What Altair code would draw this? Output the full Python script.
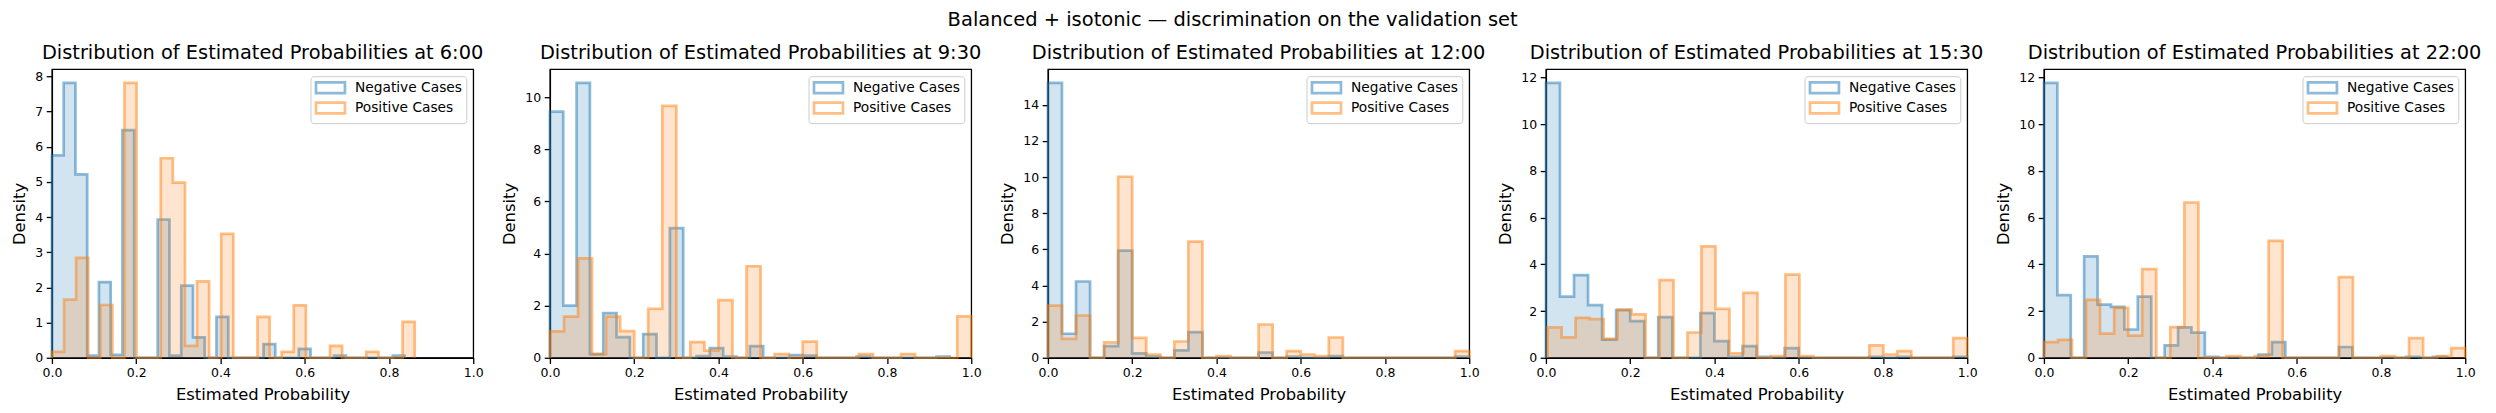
import altair as alt
import numpy as np
import pandas as pd

# ---------------- data ----------------
times = ["6:00", "9:30", "12:00", "15:30", "22:00"]
groups = ["Negative Cases", "Positive Cases"]
colors = ["#1f77b4", "#ff7f0e"]

# probability range covered by the 30 bins of each histogram
neg_range_0600 = [0.0, 0.837]
pos_range_0600 = [0.0, 0.861]
neg_range_0930 = [0.0, 0.949]
pos_range_0930 = [0.0, 1.0]
neg_range_1200 = [0.0, 1.0]
pos_range_1200 = [0.0, 1.0]
neg_range_1530 = [0.0, 1.0]
pos_range_1530 = [0.004, 1.0]
neg_range_2200 = [0.0, 0.955]
pos_range_2200 = [0.0, 1.0]

# densities of the 30 bins
neg_0600 = [5.75, 7.81, 5.21, 0.06, 2.15, 0.08, 6.47, 0, 0, 3.93, 0.06, 2.05, 0.58, 0, 1.16,
            0, 0, 0, 0.39, 0, 0, 0.25, 0, 0, 0.06, 0, 0, 0, 0, 0.06]
pos_0600 = [0.17, 1.65, 2.84, 0, 1.50, 0, 7.81, 0, 0, 5.67, 4.98, 0.34, 2.17, 0, 3.52,
            0, 0, 1.16, 0, 0.17, 1.49, 0, 0, 0.34, 0, 0, 0.17, 0, 0, 1.02]
neg_0930 = [9.44, 2.00, 10.54, 0.14, 1.71, 0.79, 0, 0.91, 0, 4.97, 0, 0.06, 0.37, 0.04, 0,
            0.45, 0, 0, 0.10, 0.08, 0, 0, 0, 0.04, 0, 0, 0, 0, 0, 0.04]
pos_0930 = [1.01, 1.58, 3.81, 0.14, 1.58, 1.02, 0, 1.88, 9.66, 0, 0.60, 0.27, 2.21, 0, 3.51,
            0, 0.14, 0, 0.62, 0, 0, 0, 0.14, 0, 0, 0.14, 0, 0, 0, 1.59]
neg_1200 = [15.21, 1.33, 4.22, 0, 0.64, 5.93, 0.24, 0.06, 0, 0.41, 1.42, 0, 0, 0, 0,
            0.29, 0, 0.06, 0, 0, 0.09, 0, 0, 0, 0, 0, 0, 0, 0, 0.06]
pos_1200 = [2.89, 1.05, 2.34, 0, 0.85, 10.02, 1.10, 0.18, 0, 0.90, 6.43, 0, 0.09, 0, 0,
            1.84, 0, 0.37, 0.18, 0.09, 1.12, 0, 0, 0, 0, 0, 0, 0, 0, 0.37]
neg_1530 = [11.76, 2.62, 3.54, 2.25, 0.78, 2.04, 1.57, 0, 1.74, 0, 0, 1.91, 0.71, 0.04, 0.50,
            0.04, 0, 0.41, 0, 0, 0, 0, 0, 0.04, 0, 0.04, 0, 0, 0, 0.04]
pos_1530 = [1.30, 0.87, 1.71, 1.65, 0.81, 2.06, 1.86, 0, 3.32, 0, 1.08, 4.77, 2.09, 0.19, 2.78,
            0, 0.07, 3.56, 0.07, 0, 0, 0, 0, 0.53, 0.14, 0.28, 0, 0, 0, 0.84]
neg_2200 = [11.77, 2.68, 0, 4.34, 2.28, 2.18, 1.21, 2.62, 0, 0.53, 1.30, 1.08, 0.04, 0, 0,
            0, 0.14, 0.67, 0, 0, 0, 0, 0.46, 0, 0, 0, 0, 0.04, 0, 0.04]
pos_2200 = [0.67, 0.77, 0, 2.48, 1.03, 2.14, 0.95, 3.80, 0, 1.31, 6.65, 0, 0, 0.07, 0,
            0.07, 5.01, 0, 0, 0, 0, 3.45, 0, 0, 0.07, 0, 0.84, 0, 0.07, 0.41]

x_ticks = [0.0, 0.2, 0.4, 0.6, 0.8, 1.0]
y_ticks_0600 = [0, 1, 2, 3, 4, 5, 6, 7, 8]
y_ticks_0930 = [0, 2, 4, 6, 8, 10]
y_ticks_1200 = [0, 2, 4, 6, 8, 10, 12, 14]
y_ticks_1530 = [0, 2, 4, 6, 8, 10, 12]
y_ticks_2200 = [0, 2, 4, 6, 8, 10, 12]

panels_data = [
    (times[0], neg_0600, pos_0600, neg_range_0600, pos_range_0600, y_ticks_0600),
    (times[1], neg_0930, pos_0930, neg_range_0930, pos_range_0930, y_ticks_0930),
    (times[2], neg_1200, pos_1200, neg_range_1200, pos_range_1200, y_ticks_1200),
    (times[3], neg_1530, pos_1530, neg_range_1530, pos_range_1530, y_ticks_1530),
    (times[4], neg_2200, pos_2200, neg_range_2200, pos_range_2200, y_ticks_2200),
]

FONT = "DejaVu Sans"
LEGEND_PATH = "M-1,-0.892L3.833,-0.892L3.833,0.892L-1,0.892Z"


def step_table(group, dens, rng):
    edges = np.linspace(rng[0], rng[1], len(dens) + 1)
    rows = [{"group": group, "idx": 0, "x": float(edges[0]), "y": 0.0}]
    for i, d in enumerate(dens):
        rows.append({"group": group, "idx": i + 1, "x": float(edges[i]), "y": float(d)})
    rows.append({"group": group, "idx": len(dens) + 1, "x": float(edges[-1]), "y": 0.0})
    return rows


def panel(t, neg, pos, nr, pr, yt):
    df = pd.DataFrame(step_table(groups[0], neg, nr) + step_table(groups[1], pos, pr))
    ymax = 1.05 * max(max(neg), max(pos))
    x = alt.X("x:Q", scale=alt.Scale(domain=[0, 1], nice=False, zero=False),
              axis=alt.Axis(values=x_ticks, format=".1f", title="Estimated Probability",
                            labelFlush=False))
    y = alt.Y("y:Q", scale=alt.Scale(domain=[0, ymax], nice=False),
              axis=alt.Axis(values=yt, format="d", title="Density", labelFlush=False))
    cscale = alt.Scale(domain=groups, range=colors)
    legend = alt.Legend(title=None, orient="top-right", offset=7,
                        symbolType=LEGEND_PATH, symbolSize=144, symbolStrokeWidth=2.7,
                        symbolFillColor="transparent", symbolOpacity=0.5,
                        labelFontSize=13.8, labelFont=FONT, labelColor="black",
                        labelOffset=25.5, rowPadding=-2.7, padding=4,
                        fillColor="rgba(255,255,255,0.8)", strokeColor="#cccccc",
                        cornerRadius=3, labelLimit=300)
    layers = []
    for g, c in zip(groups, colors):
        base = alt.Chart(df).transform_filter(alt.datum.group == g)
        area = base.transform_filter(alt.datum.idx >= 1).mark_area(
            interpolate="step-after", opacity=0.2, color=c
        ).encode(x=x, y=y)
        line = base.mark_line(
            interpolate="step-after", opacity=0.5, strokeWidth=2.7, strokeJoin="miter"
        ).encode(x=x, y=y, order=alt.Order("idx:Q"),
                 color=alt.Color("group:N", scale=cscale, legend=legend))
        layers += [area, line]
    return alt.layer(*layers).properties(
        width=422, height=289,
        title=alt.TitleParams(f"Distribution of Estimated Probabilities at {t}",
                              fontSize=19.4, font=FONT, fontWeight="normal",
                              color="black", offset=6),
    )


chart = alt.hconcat(*[panel(*p) for p in panels_data], spacing=76.8, bounds="flush").resolve_scale(
    color="independent", y="independent", x="independent"
).properties(
    title=alt.TitleParams("Balanced + isotonic \u2014 discrimination on the validation set",
                          fontSize=19.5, font=FONT, fontWeight="normal", color="black",
                          anchor="middle", offset=12, dx=-14),
    padding={"left": 3, "top": 1, "right": 5, "bottom": 5},
    background="white",
).configure_view(
    stroke="black", strokeWidth=1.3
).configure_axis(
    grid=False, domainColor="black", domainWidth=1.3, tickColor="black", tickWidth=1.3,
    tickSize=5.7, labelPadding=3.5, labelFont=FONT, labelFontSize=12.5, labelColor="black",
    titleFont=FONT, titleFontSize=16.4, titleFontWeight="normal", titleColor="black",
    titlePadding=7,
)

chart.save("out.html", embed_options={"renderer": "svg", "actions": False})
